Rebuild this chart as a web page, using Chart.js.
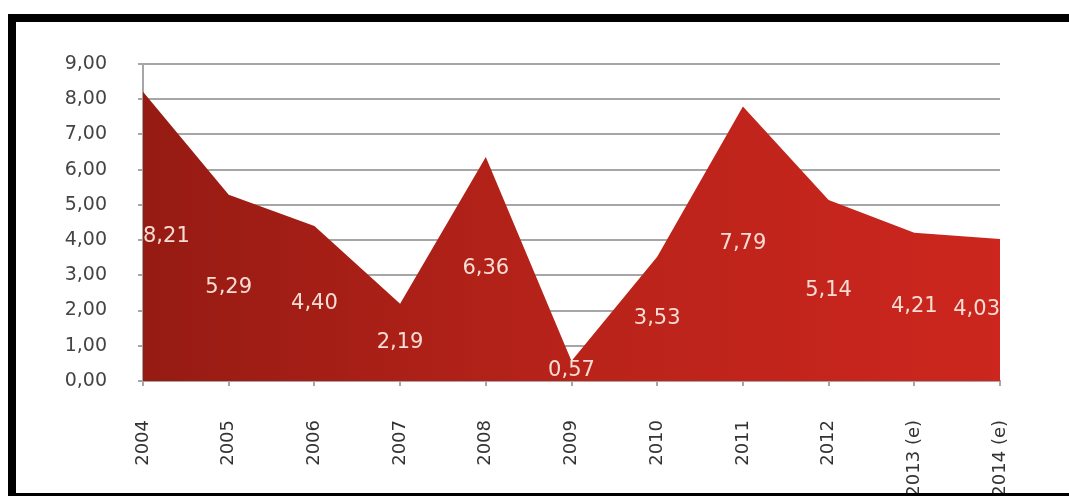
<!DOCTYPE html>
<html>
<head>
<meta charset="utf-8">
<script src="https://cdn.jsdelivr.net/npm/chart.js@4.4.1/dist/chart.umd.min.js"></script>
<style>
  html, body { margin: 0; padding: 0; background: #fff; }
  #wrap { position: relative; width: 1069px; height: 496px; overflow: hidden; background: #fff; }
  #frame { position: absolute; left: 8px; top: 14px; width: 1061px; height: 482px;
           border-top: 8px solid #000; border-left: 8px solid #000; border-bottom: 3px solid #000;
           box-sizing: border-box; pointer-events: none; z-index: 2; }
  canvas { position: absolute; left: 0; top: 0; }
</style>
</head>
<body>
<div id="wrap">
  <canvas id="c" width="1069" height="496"></canvas>
  <div id="frame"></div>
</div>
<script>
const categories = ["2004", "2005", "2006", "2007", "2008", "2009", "2010", "2011", "2012", "2013 (e)", "2014 (e)"];
const values = [8.21, 5.29, 4.40, 2.19, 6.36, 0.57, 3.53, 7.79, 5.14, 4.21, 4.03];
const yTicks = [0, 1, 2, 3, 4, 5, 6, 7, 8, 9];

const fmt = v => v.toFixed(2).replace('.', ',');

const labelPlugin = {
  id: 'midLabels',
  afterDatasetsDraw(chart) {
    const ctx = chart.ctx;
    const xs = chart.scales.x, ys = chart.scales.y, area = chart.chartArea;
    ctx.save();
    ctx.font = '21px "DejaVu Sans"';
    ctx.fillStyle = '#f7ddd4';
    ctx.textBaseline = 'middle';
    ctx.textAlign = 'left';
    values.forEach((v, i) => {
      const t = fmt(v);
      const w = ctx.measureText(t).width;
      let x = xs.getPixelForValue(i) - w / 2;
      if (x < area.left) x = area.left;
      if (x + w > area.right) x = area.right - w;
      const y = ys.getPixelForValue(v / 2);
      ctx.fillText(t, x, y);
    });
    ctx.restore();
  }
};

new Chart(document.getElementById('c'), {
  type: 'line',
  data: {
    labels: categories,
    datasets: [{
      data: values,
      fill: 'origin',
      borderWidth: 0,
      pointRadius: 0,
      tension: 0,
      backgroundColor(context) {
        const chart = context.chart;
        const a = chart.chartArea;
        if (!a) return '#b02219';
        const g = chart.ctx.createLinearGradient(a.left, 0, a.right, 0);
        g.addColorStop(0, '#961b13');
        g.addColorStop(0.5, '#b8231a');
        g.addColorStop(1, '#cc261e');
        return g;
      }
    }]
  },
  options: {
    responsive: false,
    animation: false,
    devicePixelRatio: 1,
    layout: { padding: { top: 64, right: 69, left: 0, bottom: 0 } },
    plugins: { legend: { display: false }, tooltip: { enabled: false } },
    scales: {
      x: {
        offset: false,
        afterFit(s) { s.height = 115; },
        grid: { drawOnChartArea: false, drawTicks: true, tickLength: 5, color: '#a6a6a6', lineWidth: 2 },
        border: { display: true, color: '#a6a6a6', width: 2 },
        ticks: {
          minRotation: 90, maxRotation: 90, autoSkip: false, padding: 34,
          color: '#333', font: { family: '"DejaVu Sans"', size: 18 }
        }
      },
      y: {
        min: 0, max: 9,
        afterFit(s) { s.width = 143; },
        afterBuildTicks(s) { s.ticks = yTicks.map(v => ({ value: v })); },
        grid: { color: '#a6a6a6', lineWidth: 2, tickLength: 5, drawTicks: true },
        border: { display: true, color: '#a6a6a6', width: 2 },
        ticks: {
          padding: 31, color: '#444',
          font: { family: '"DejaVu Sans"', size: 19 },
          callback: v => fmt(v)
        }
      }
    }
  },
  plugins: [labelPlugin]
});
</script>
</body>
</html>
